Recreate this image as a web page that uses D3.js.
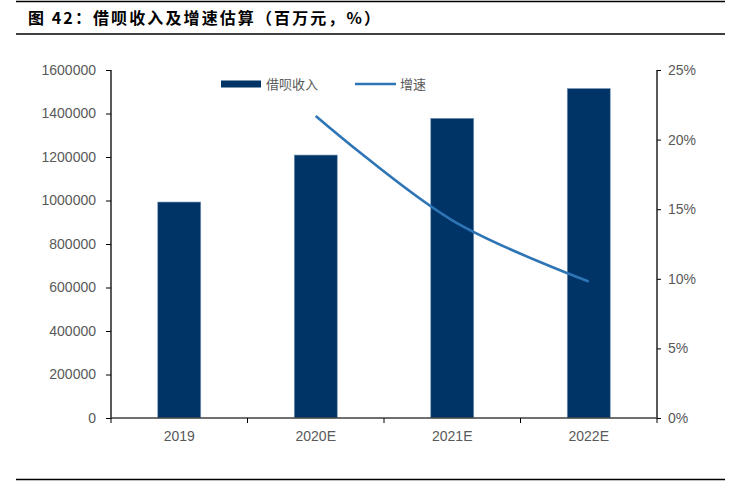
<!DOCTYPE html>
<html>
<head>
<meta charset="utf-8">
<script src="https://cdn.jsdelivr.net/npm/d3@7/dist/d3.min.js"></script>
<style>
  body { margin: 0; background: #fff; }
  svg { display: block; }
</style>
</head>
<body>
<svg id="chart" width="731" height="481"></svg>
<script>
// data
var categories = ['2019', '2020E', '2021E', '2022E'];
var revenue = [993000, 1209000, 1378000, 1515000];   // 借呗收入, 百万元
var growth = [null, 0.217, 0.142, 0.098];            // 增速
var leftTicks = [0, 200000, 400000, 600000, 800000, 1000000, 1200000, 1400000, 1600000];
var rightTicks = [0, 0.05, 0.10, 0.15, 0.20, 0.25];
var legendNames = ['借呗收入', '增速'];

var barColor = '#003366';
var lineColor = '#2e75b6';
var textColor = '#595959';
var numFont = '"Liberation Sans", Arial, sans-serif';
var cjkFont = '"Noto Sans CJK SC", sans-serif';

var svg = d3.select('#chart');

// frame lines and title
svg.append('line').attr('x1', 16).attr('x2', 725).attr('y1', 1.5).attr('y2', 1.5)
    .attr('stroke', '#000').attr('stroke-width', 1.5);
svg.append('text')
    .attr('x', 28).attr('y', 24)
    .attr('textLength', 352)
    .attr('lengthAdjust', 'spacing')
    .style('font-family', cjkFont)
    .style('font-weight', 'bold')
    .style('font-size', '16px')
    .attr('fill', '#000')
    .text('图 42：借呗收入及增速估算（百万元，%）');
svg.append('line').attr('x1', 16).attr('x2', 725).attr('y1', 34).attr('y2', 34)
    .attr('stroke', '#000').attr('stroke-width', 1.5);
svg.append('line').attr('x1', 16).attr('x2', 725).attr('y1', 479.5).attr('y2', 479.5)
    .attr('stroke', '#000').attr('stroke-width', 1.5);

var plotL = 111, plotR = 657, plotT = 70, plotB = 418;

var x = d3.scaleBand().domain(categories).range([plotL, plotR]).padding(0);
var y = d3.scaleLinear().domain([0, 1600000]).range([plotB, plotT]);
var y2 = d3.scaleLinear().domain([0, 0.25]).range([plotB, plotT]);

var barW = x.bandwidth() * 0.315;

// bars
svg.append('g').selectAll('rect')
    .data(categories)
    .enter().append('rect')
    .attr('x', function(d) { return x(d) + x.bandwidth() / 2 - barW / 2; })
    .attr('y', function(d, i) { return y(revenue[i]); })
    .attr('width', barW)
    .attr('height', function(d, i) { return plotB - y(revenue[i]); })
    .attr('fill', barColor)
    .attr('stroke', '#7f9bbd')
    .attr('stroke-width', 0.6);

// growth line
var pts = categories.map(function(c, i) { return {c: c, v: growth[i]}; })
    .filter(function(d) { return d.v != null; });
var line = d3.line()
    .x(function(d) { return x(d.c) + x.bandwidth() / 2; })
    .y(function(d) { return y2(d.v); })
    .curve(d3.curveCatmullRom.alpha(0.5));
svg.append('path')
    .datum(pts)
    .attr('d', line)
    .attr('fill', 'none')
    .attr('stroke', lineColor)
    .attr('stroke-width', 2.6);

// left axis
var yAxis = svg.append('g')
    .attr('transform', 'translate(' + plotL + ',0)')
    .call(d3.axisLeft(y).tickValues(leftTicks).tickSize(5).tickPadding(10).tickFormat(d3.format('d')));
yAxis.select('.domain').attr('stroke', '#000').attr('stroke-width', 1.3).attr('d', 'M0,' + plotT + 'V' + plotB);

// right axis
var y2Axis = svg.append('g')
    .attr('transform', 'translate(' + plotR + ',0)')
    .call(d3.axisRight(y2).tickValues(rightTicks).tickSize(4).tickPadding(7).tickFormat(d3.format('.0%')));
y2Axis.select('.domain').attr('stroke', '#000').attr('stroke-width', 1.3).attr('d', 'M0,' + plotT + 'V' + plotB);

// x axis: ticks on category boundaries
var xAxis = svg.append('g').attr('transform', 'translate(0,' + plotB + ')');
xAxis.append('line').attr('x1', plotL).attr('x2', plotR)
    .attr('stroke', '#404040').attr('stroke-width', 1.6);
var bounds = categories.map(function(c) { return x(c); }).concat([plotR]);
xAxis.selectAll('.xtick').data(bounds).enter().append('line')
    .attr('class', 'xtick')
    .attr('x1', function(d) { return d; }).attr('x2', function(d) { return d; })
    .attr('y1', 0).attr('y2', 5)
    .attr('stroke', '#000');
xAxis.selectAll('.xlabel').data(categories).enter().append('text')
    .attr('class', 'xlabel')
    .attr('x', function(d) { return x(d) + x.bandwidth() / 2; })
    .attr('y', 23)
    .attr('text-anchor', 'middle')
    .text(function(d) { return d; });

svg.selectAll('.tick line').attr('stroke', '#000');
svg.selectAll('.tick text, .xlabel')
    .style('font-family', numFont)
    .style('font-size', '14px')
    .attr('fill', textColor);

// legend
var lg = svg.append('g');
lg.append('rect').attr('x', 221).attr('y', 80.5).attr('width', 40).attr('height', 7).attr('fill', barColor);
lg.append('text').attr('x', 266).attr('y', 89).text(legendNames[0]);
lg.append('line').attr('x1', 355).attr('x2', 396).attr('y1', 84).attr('y2', 84)
    .attr('stroke', lineColor).attr('stroke-width', 2.6);
lg.append('text').attr('x', 400).attr('y', 89).text(legendNames[1]);
lg.selectAll('text')
    .style('font-family', cjkFont)
    .style('font-size', '13px')
    .attr('fill', textColor);
</script>
</body>
</html>
